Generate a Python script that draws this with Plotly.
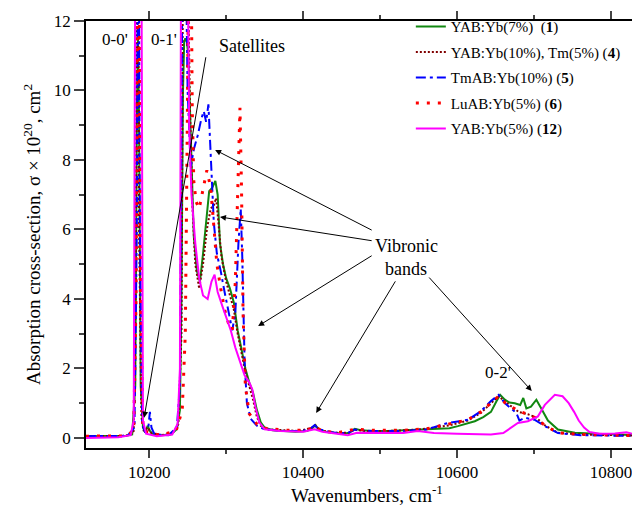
import plotly.graph_objects as go

# ---- data: (wavenumber cm^-1, cross-section 1e-20 cm^2) ----
yab7 = [(10118,0.05),(10150,0.05),(10170,0.06),(10178,0.1),(10182,1.5),(10184,9),(10185.5,11.5),(10187,9),(10189,1.5),
        (10192,0.3),(10195,0.15),(10198,0.35),(10201,0.2),(10205,0.1),(10215,0.08),(10228,0.1),(10236,0.25),(10240,0.8),
        (10242,4),(10244,10),(10245.5,11.4),(10247,11.5),(10249,11.4),(10251,11.0),(10253,9.5),(10255,7.5),(10258,5.8),
        (10262,4.8),(10266,4.5),(10270,5.3),(10274,6.2),(10278,7.1),(10282,7.2),(10286,7.4),(10289,7.0),(10292,5.6),
        (10296,5.0),(10300,4.6),(10305,4.3),(10310,3.9),(10315,3.1),(10320,2.5),(10325,2.0),(10330,1.6),(10335,1.3),
        (10340,0.8),(10345,0.45),(10350,0.3),(10360,0.22),(10375,0.2),(10390,0.18),(10405,0.2),(10412,0.28),(10416,0.37),
        (10420,0.25),(10428,0.18),(10440,0.15),(10452,0.12),(10460,0.15),(10467,0.26),(10475,0.22),(10490,0.2),(10510,0.2),
        (10530,0.22),(10550,0.24),(10570,0.25),(10590,0.28),(10601,0.34),(10612,0.42),(10623,0.48),(10634,0.6),(10644,0.75),
        (10651,1.05),(10656,1.24),(10662,1.1),(10668,1.02),(10675,1.0),(10682,0.95),(10686,1.15),(10690,0.85),(10696,0.9),
        (10703,1.1),(10709,0.86),(10718,0.5),(10731,0.24),(10753,0.15),(10780,0.12),(10818,0.09),(10848,0.07)]

yab10tm5 = [(10118,0.05),(10170,0.06),(10180,0.2),(10183,5),(10185,20),(10187,6),(10190,0.6),(10193,0.2),(10198,0.3),
            (10202,0.15),(10215,0.08),(10230,0.12),(10238,0.4),(10242,3),(10244,14),(10248,16),(10251,12.5),(10253,9.5),
            (10256,6.8),(10260,5.0),(10265,4.3),(10270,5.0),(10275,6.0),(10280,6.6),(10284,6.7),(10287,6.9),(10290,6.2),
            (10294,5.2),(10300,4.5),(10305,4.1),(10310,3.7),(10315,3.0),(10320,2.4),(10325,1.9),(10330,1.5),(10335,1.1),
            (10340,0.6),(10345,0.35),(10352,0.25),(10370,0.22),(10395,0.2),(10412,0.3),(10416,0.36),(10422,0.22),
            (10440,0.15),(10460,0.15),(10467,0.24),(10480,0.2),(10510,0.2),(10550,0.24),(10590,0.36),(10614,0.5),
            (10631,0.72),(10644,1.0),(10654,1.2),(10662,1.05),(10670,0.92),(10680,0.75),(10692,0.68),(10702,0.6),
            (10714,0.36),(10731,0.15),(10760,0.1),(10848,0.06)]

tmab10 = [(10118,0.05),(10172,0.06),(10181,0.3),(10184,6),(10186,18),(10188,6),(10191,0.4),(10195,0.15),(10199,0.3),
          (10201,0.75),(10203,0.3),(10207,0.1),(10225,0.08),(10236,0.3),(10240,1.5),(10242,10),(10244,16),(10247,15),
          (10250,10),(10254,7.8),(10258,8.3),(10263,8.7),(10268,9.2),(10271,9.4),(10274,9.1),(10277,9.6),(10280,8.0),
          (10284,6.2),(10288,5.3),(10293,4.8),(10298,4.2),(10303,3.6),(10308,3.1),(10312,3.6),(10316,5.6),(10319,6.6),
          (10321,5.2),(10324,2.2),(10327,1.0),(10332,0.55),(10340,0.35),(10350,0.25),(10375,0.2),(10400,0.2),(10410,0.28),
          (10415,0.37),(10420,0.25),(10440,0.15),(10458,0.14),(10467,0.24),(10490,0.2),(10530,0.2),(10560,0.24),
          (10588,0.43),(10614,0.52),(10631,0.77),(10644,1.06),(10654,1.24),(10662,1.0),(10670,0.85),(10677,0.72),
          (10681,0.5),(10688,0.58),(10701,0.52),(10714,0.34),(10731,0.14),(10760,0.08),(10848,0.05)]

luab5 = [(10118,0.05),(10170,0.06),(10180,0.2),(10183,4),(10186,18),(10189,4),(10192,0.3),(10198,0.15),(10215,0.08),
         (10235,0.2),(10243,0.8),(10247,3),(10250,10),(10252,16),(10254.5,14),(10256,9.5),(10258,7.4),(10261,6.8),
         (10265,6.6),(10270,7.2),(10275,7.7),(10280,7.2),(10284,6.0),(10288,5.0),(10293,4.3),(10298,3.7),(10303,3.3),
         (10308,3.1),(10312,4.5),(10315,7.0),(10318,9.5),(10320,7.2),(10322,3.6),(10325,1.5),(10330,0.7),(10340,0.4),
         (10350,0.28),(10380,0.22),(10405,0.22),(10415,0.33),(10425,0.2),(10445,0.15),(10467,0.25),(10490,0.22),
         (10530,0.22),(10560,0.26),(10590,0.4),(10614,0.52),(10631,0.75),(10644,1.0),(10654,1.2),(10662,1.02),
         (10670,0.9),(10680,0.78),(10692,0.67),(10702,0.58),(10714,0.36),(10731,0.15),(10760,0.1),(10848,0.06)]

yab5 = [(10118,0.0),(10160,0.02),(10176,0.08),(10180,0.5),(10182,14),(10186,25),(10190,14),(10192,0.5),(10196,0.12),
        (10210,0.05),(10230,0.1),(10237,0.4),(10240,2),(10241.5,14),(10246,25),(10250,14),(10252,9),(10255,7.0),
        (10260,5.6),(10265,4.6),(10270,4.1),(10276,4.0),(10281,4.5),(10285,4.7),(10289,4.2),(10295,3.8),(10300,3.5),
        (10306,3.1),(10312,2.6),(10318,2.2),(10324,1.8),(10330,1.6),(10334,1.4),(10338,0.9),(10343,0.45),(10350,0.25),
        (10370,0.2),(10400,0.18),(10415,0.25),(10425,0.18),(10445,0.12),(10458,0.08),(10470,0.15),(10500,0.15),
        (10530,0.14),(10549,0.2),(10570,0.14),(10600,0.12),(10623,0.1),(10644,0.1),(10660,0.14),(10670,0.29),
        (10679,0.43),(10692,0.48),(10705,0.62),(10714,0.95),(10727,1.24),(10737,1.2),(10745,1.0),(10752,0.75),
        (10758,0.5),(10765,0.3),(10772,0.17),(10785,0.12),(10805,0.13),(10820,0.16),(10835,0.08),(10848,0.06)]

series_names = ["YAB:Yb(7%)  (<b>1</b>)", "YAB:Yb(10%), Tm(5%) (<b>4</b>)", "TmAB:Yb(10%) (<b>5</b>)",
                "LuAB:Yb(5%) (<b>6</b>)", "YAB:Yb(5%) (<b>12</b>)"]
series_data = [yab7, yab10tm5, tmab10, luab5, yab5]

x_ticks = [10200, 10400, 10600, 10800]
x_ticklabels = ["10200", "10400", "10600", "10800"]
y_ticks = [0, 2, 4, 6, 8, 10, 12]
y_ticklabels = ["0", "2", "4", "6", "8", "10", "12"]

styles = [dict(color="#118811", width=2, dash="solid"),
          dict(color="#800000", width=2, dash="2px,2px"),
          dict(color="#0000ff", width=2, dash="10px,4px,3px,4px"),
          dict(color="#ff0000", width=3, dash="3px,8px"),
          dict(color="#ff00ff", width=2, dash="solid")]

FONT = "Liberation Serif"
fig = go.Figure()
for i, (name, data, st) in enumerate(zip(series_names, series_data, styles)):
    fig.add_trace(go.Scatter(x=[p[0] for p in data], y=[p[1] for p in data], mode="lines",
                             name=name, line=st, legendgroup=f"g{i}"))

ann = []
def label(x, y, t, size=17):
    ann.append(dict(x=x, y=y, xref="x", yref="y", text=t, showarrow=False,
                    font=dict(family=FONT, size=size, color="black")))
def arrow(x0, y0, x1, y1):
    ann.append(dict(x=x1, y=y1, ax=x0, ay=y0, xref="x", yref="y", axref="x", ayref="y",
                    text="", showarrow=True, arrowhead=2, arrowsize=1.2, arrowwidth=1,
                    arrowcolor="black", standoff=0, startstandoff=0))

label(10156, 11.48, "0-0'", 17)
label(10219.5, 11.48, "0-1'", 17)
label(10333, 11.27, "Satellites", 18)
label(10534, 5.53, "Vibronic", 18)
label(10534, 4.85, "bands", 18)
label(10653, 1.87, "0-2'", 17)

arrow(10274, 11.0, 10193.5, 0.58)
arrow(10491, 5.96, 10285.7, 8.29)
arrow(10491, 5.67, 10292, 6.36)
arrow(10491, 5.27, 10341.6, 3.22)
arrow(10521, 4.55, 10417, 0.72)
arrow(10562, 4.66, 10697, 1.35)

fig.update_layout(
    width=640, height=507,
    margin=dict(l=78, r=0, t=13, b=67),
    paper_bgcolor="white", plot_bgcolor="white",
    font=dict(family=FONT, size=16, color="black"),
    showlegend=True,
    legend=dict(x=0.578, y=1.025, xanchor="left", yanchor="top", bgcolor="rgba(0,0,0,0)",
                font=dict(family=FONT, size=15), tracegroupgap=3, traceorder="grouped"),
    annotations=ann,
)
fig.update_xaxes(range=[10118, 10848], tickvals=x_ticks, ticktext=x_ticklabels, ticks="outside", ticklen=8,
                 tickwidth=1.5, showline=True, linecolor="black", linewidth=1.5, mirror="allticks", showgrid=False,
                 zeroline=False, tickfont=dict(family=FONT, size=17),
                 minor=dict(dtick=100, tick0=10200, ticklen=4, tickwidth=1.5, ticks="outside", showgrid=False),
                 title=dict(text="Wavenumbers, cm<sup>-1</sup>", font=dict(family=FONT, size=19), standoff=6))
fig.update_yaxes(range=[-0.29, 12], tickvals=y_ticks, ticktext=y_ticklabels, ticks="outside", ticklen=10,
                 tickwidth=1.5, showline=True, linecolor="black", linewidth=1.5, showgrid=False, zeroline=False,
                 tickfont=dict(family=FONT, size=17),
                 minor=dict(dtick=1, tick0=0, ticklen=5, tickwidth=1.5, ticks="outside", showgrid=False),
                 title=dict(text="Absorption cross-section, σ × 10<sup>20</sup>, cm<sup>2</sup>",
                            font=dict(family=FONT, size=19), standoff=8))
fig.write_html("out.html")
